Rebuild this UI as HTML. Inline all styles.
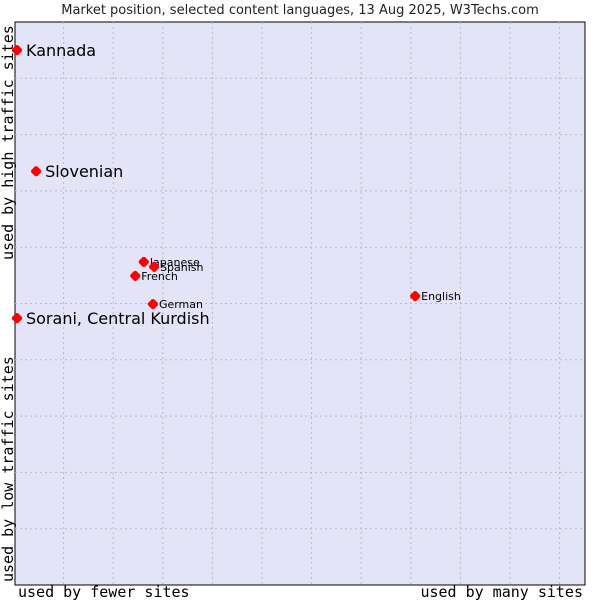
<!DOCTYPE html>
<html><head><meta charset="utf-8"><style>
body{margin:0;background:#fff;width:600px;height:600px;overflow:hidden}
svg text{font-family:"DejaVu Sans","Liberation Sans",sans-serif}
</style></head><body>
<svg width="600" height="600">
<text x="300" y="14" text-anchor="middle" font-size="13" fill="#222">Market position, selected content languages, 13 Aug 2025, W3Techs.com</text>
<rect x="15" y="22" width="570" height="563" fill="#e3e4f8" stroke="#000" stroke-width="1"/>
<g id="grid"></g>
<g id="marks"></g>
<text x="18" y="597" font-size="15" style="font-family:'DejaVu Sans Mono','Liberation Mono',monospace">used by fewer sites</text>
<text x="583" y="597" text-anchor="end" font-size="15" style="font-family:'DejaVu Sans Mono','Liberation Mono',monospace">used by many sites</text>
<text transform="translate(13,260) rotate(-90)" font-size="15" style="font-family:'DejaVu Sans Mono','Liberation Mono',monospace">used by high traffic sites</text>
<text transform="translate(13,582) rotate(-90)" font-size="15" style="font-family:'DejaVu Sans Mono','Liberation Mono',monospace">used by low traffic sites</text>
</svg>
<script>
const languages=["Kannada","Slovenian","Japanese","Spanish","French","German","English","Sorani, Central Kurdish"];
const xValues=[0.35,3.7,22.6,24.4,21.1,24.2,70.2,0.35];
const yValues=[95.0,73.5,57.4,56.5,54.9,49.9,51.3,47.4];
const labelSizes=[16,16,11,11,11,11,11,16];
const NS="http://www.w3.org/2000/svg";
const X0=15,W=570,Y0=585,H=563;
function sx(v){return X0+v*W/100;}
function sy(v){return Y0-v*H/100;}
const grid=document.getElementById('grid');
for(let i=1;i<=11;i++){const x=14+49.6*i;const l=document.createElementNS(NS,'line');
l.setAttribute('x1',x);l.setAttribute('x2',x);l.setAttribute('y1',22);l.setAttribute('y2',585);
l.setAttribute('stroke','#bbb');l.setAttribute('stroke-dasharray','2,3');


grid.appendChild(l);}
for(let i=1;i<=9;i++){const y=22+56.3*i;const l=document.createElementNS(NS,'line');
l.setAttribute('x1',15);l.setAttribute('x2',585);l.setAttribute('y1',y);l.setAttribute('y2',y);
l.setAttribute('stroke','#bbb');l.setAttribute('stroke-dasharray','2,3');


grid.appendChild(l);}
const marks=document.getElementById('marks');
languages.forEach((n,i)=>{const x=sx(xValues[i]),y=sy(yValues[i]);
const p=document.createElementNS(NS,'path');
p.setAttribute('d',`M${x-5},${y-1}L${x-1},${y-5}L${x+1},${y-5}L${x+5},${y-1}L${x+5},${y+1}L${x+1},${y+5}L${x-1},${y+5}L${x-5},${y+1}Z`);
p.setAttribute('fill','#f00');


marks.appendChild(p);
const t=document.createElementNS(NS,'text');
const big=labelSizes[i]>12;
t.setAttribute('x',x+(big?9:6));t.setAttribute('y',y+(big?6:4));
t.setAttribute('font-size',labelSizes[i]);t.setAttribute('fill','#000');
t.textContent=n;


marks.appendChild(t);});
</script>
</body></html>
